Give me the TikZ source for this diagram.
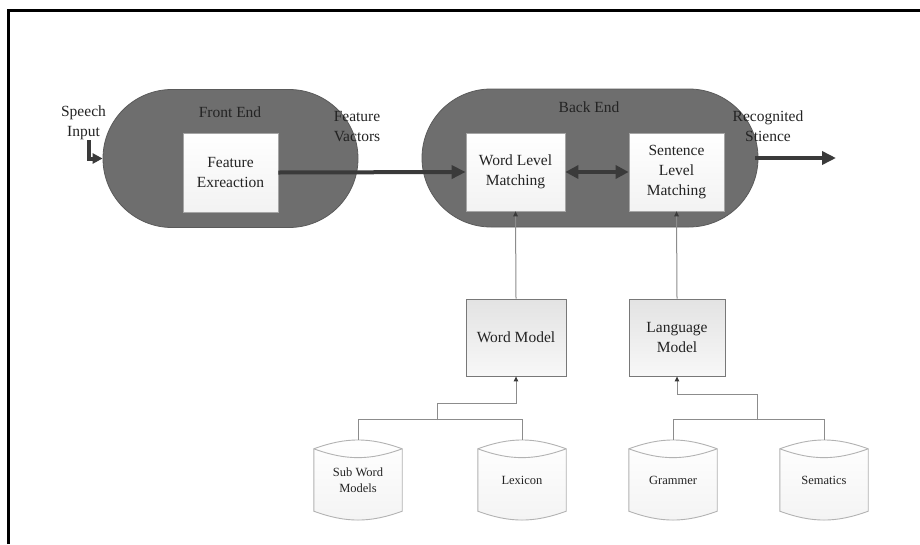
\documentclass[tikz,border=0pt]{standalone}
\usepackage{fontspec}
\setmainfont{Liberation Serif}
\usetikzlibrary{arrows.meta,calc,backgrounds}
\pgfdeclarelayer{bottom}
\pgfsetlayers{bottom,background,main}
\definecolor{stad}{RGB}{110,110,110}
\definecolor{stadb}{RGB}{90,90,90}
\definecolor{arr}{RGB}{58,58,58}
\definecolor{boxb}{RGB}{165,165,165}
\definecolor{modb}{RGB}{120,120,120}
\definecolor{conn}{RGB}{140,140,140}
\definecolor{txt}{RGB}{35,35,35}
\newcommand\mycyl[4]{%
  \node[cylnode] (#1) at (#2,#3) {#4};
  \begin{scope}[on background layer]
    \draw[cylline, top color=white, bottom color=gray!9]
      (#1.north west) to[bend left=20] (#1.north east) -- (#1.south east)
      to[bend left=20] (#1.south west) -- cycle;
    \draw[cylline] (#1.north west) to[bend right=20] (#1.north east);
  \end{scope}
  \coordinate (#1t) at ($(#1.north)+(0,-9)$);
}
\begin{document}
\begin{tikzpicture}[x=1pt,y=-1pt,
  every node/.style={text=txt},
  mainfont/.style={font=\fontsize{15.5}{20}\selectfont},
  stadium/.style={draw=stadb, line width=0.8pt, fill=stad, rounded corners=69pt,
    minimum height=138pt, inner sep=0pt},
  inbox/.style={mainfont, draw=boxb, line width=0.7pt, top color=white, bottom color=gray!10,
    align=center, inner sep=0pt},
  modbox/.style={mainfont, draw=modb, line width=0.8pt, top color=gray!22, bottom color=gray!6,
    align=center, inner sep=0pt, minimum height=77pt},
  lbl/.style={mainfont, align=center, inner sep=0pt},
  cylnode/.style={font=\fontsize{12.5}{16}\selectfont, align=center, inner sep=0pt,
    minimum width=88pt, minimum height=62pt},
  cylline/.style={draw=gray!60, line width=0.9pt},
  bigarrow/.style={draw=arr, line width=4pt, -{Triangle[length=14pt,width=13pt]}},
  bigdarrow/.style={draw=arr, line width=4pt, {Triangle[length=13pt,width=13pt]}-{Triangle[length=13pt,width=13pt]}},
  connline/.style={draw=conn, line width=1pt},
  connarrow/.style={draw=conn, line width=1pt, -{Triangle[length=5pt,width=4.5pt,color=arr]}},
]
\useasboundingbox (0,0) rectangle (920,544);
\begin{pgfonlayer}{bottom}
\fill[white] (0,0) rectangle (920,544);
\end{pgfonlayer}
% frame (left and top edges)
\draw[line width=2.6pt, black] (8.7,544) -- (8.7,10.7) -- (920,10.7);

% stadiums
\node[stadium, minimum width=255pt] (fe) at (230.5,158.5) {};
\node[stadium, minimum width=336pt] (be) at (590,158) {};
\node[lbl] (fet) at (230,112) {Front End};
\node[lbl] (bet) at (589,107) {Back End};

% inner boxes
\node[inbox, minimum width=95pt, minimum height=79pt] (fx) at (230.5,172.5) {Feature\\Exreaction};
\node[inbox, minimum width=99pt, minimum height=78pt] (wl) at (515.5,172) {Word Level\\Matching};
\node[inbox, minimum width=95pt, minimum height=78pt] (sl) at (676.5,172) {Sentence\\Level\\Matching};

% outside labels
\node[lbl] (speech) at (83.5,123) {Speech\\Input};
\node[lbl] (fv) at (357,127) {Feature\\Vactors};
\node[lbl] (rs) at (768,126.5) {Recognited\\Stience};
\coordinate (outp) at (836,158);

% thick arrows
\draw[bigarrow, -{Triangle[length=10pt,width=10pt]}] ([xshift=5pt]speech.south) |- (fe.west);
\draw[bigarrow] (fx.east) -- (wl.west);
\draw[bigdarrow] (wl.east) -- (sl.west);
\draw[bigarrow] ([xshift=-3pt]be.east) -- (outp);

% model boxes
\node[modbox, minimum width=100pt] (wm) at (516,337.5) {Word Model};
\node[modbox, minimum width=96pt] (lm) at (677,337.5) {Language\\Model};

\draw[connarrow] (wm.north) -- (wl.south);
\draw[connarrow] (lm.north) -- (sl.south);

% cylinders
\mycyl{sub}{358}{480}{Sub Word\\Models}
\mycyl{lex}{522}{480}{Lexicon}
\mycyl{gram}{673}{480}{Grammer}
\mycyl{sem}{824}{480}{Sematics}

% tree connectors
\draw[connline] (subt) -- ++(0,-20) -| (lext);
\coordinate (wj) at (437,420);
\coordinate (wk) at (437,403);
\draw[connarrow] (wj) -- (wk) -| (wm.south);

\draw[connline] (gramt) -- ++(0,-20) -| (semt);
\coordinate (gj) at (757,420);
\coordinate (gk) at (757,394);
\draw[connarrow] (gj) -- (gk) -| (lm.south);
\end{tikzpicture}
\end{document}
